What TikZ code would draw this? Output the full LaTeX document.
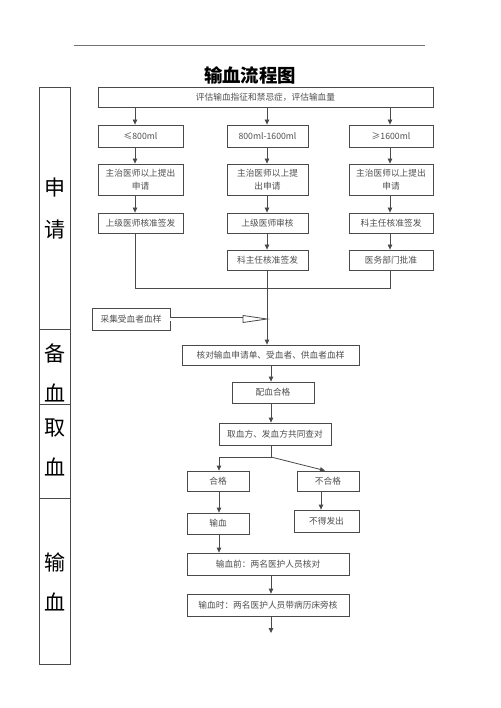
\documentclass[tikz,border=0pt]{standalone}
\usepackage{fontspec}
\setmainfont{Noto Sans CJK SC}
\usetikzlibrary{arrows.meta,calc}
\definecolor{lc}{HTML}{4A4A4A}
\definecolor{tc}{HTML}{4F4F4F}
\begin{document}
\begin{tikzpicture}[x=1pt,y=-1pt,
  box/.style={draw=lc, line width=0.8pt, inner sep=0pt, text=tc, align=center,
    font=\fontsize{8.7}{13}\selectfont},
  arr/.style={draw=lc, line width=0.8pt, -{Triangle[length=5pt,width=4.5pt]}},
  ln/.style={draw=lc, line width=0.8pt},
  side/.style={font=\fontsize{21}{21}\selectfont, text=black}]
\useasboundingbox[fill=white] (0,0) rectangle (500,708);
% header rule and title
\draw[draw=black!55, line width=0.8pt] (74,45) -- (425,45);
\node[font=\fontsize{18.4}{20}\selectfont\bfseries] (title) at (250,75) {输血流程图};
% left frame
\draw[ln] (39,87) rectangle (70,664);
\draw[ln] (39,329) -- (70,329);
\draw[ln] (39,404) -- (70,404);
\draw[ln] (39,498) -- (70,498);
\node[side] (s1) at (55,188) {申};
\node[side] (s2) at (55,230) {请};
\node[side] (s3) at (55,353) {备};
\node[side] (s4) at (55,393) {血};
\node[side] (s5) at (55,428) {取};
\node[side] (s6) at (55,467) {血};
\node[side] (s7) at (55,562) {输};
\node[side] (s8) at (55,602) {血};
% column coordinates
\coordinate (cx1) at (135,0);
\coordinate (cx2) at (267,0);
\coordinate (cx3) at (390,0);
\coordinate (cx4) at (271,0);
\coordinate (cx5) at (219,0);
\coordinate (cx6) at (321,0);
\coordinate (cx7) at (325,0);
\coordinate (m) at (0,288);
\coordinate (split) at (0,457);
\coordinate (dh) at (243,319);
\coordinate (tip) at (267,319);
\coordinate (endp) at (271,633);
% boxes
\node[box, minimum width=335pt, minimum height=20pt] (top) at (265.5,97) {评估输血指征和禁忌症，评估输血量};
\node[box, minimum width=85pt, minimum height=22pt] (a1) at (140.5,136) {≤800ml};
\node[box, minimum width=81pt, minimum height=22pt] (a2) at (267.5,136) {800ml-1600ml};
\node[box, minimum width=84pt, minimum height=22pt] (a3) at (391,136) {≥1600ml};
\node[box, minimum width=85pt, minimum height=31pt] (b1) at (140.5,179.5) {主治医师以上提出\\申请};
\node[box, minimum width=81pt, minimum height=31pt] (b2) at (267.5,179.5) {主治医师以上提\\出申请};
\node[box, minimum width=84pt, minimum height=31pt] (b3) at (391,179.5) {主治医师以上提出\\申请};
\node[box, minimum width=85pt, minimum height=20pt] (c1) at (140.5,223) {上级医师核准签发};
\node[box, minimum width=81pt, minimum height=20pt] (c2) at (267.5,223) {上级医师审核};
\node[box, minimum width=84pt, minimum height=20pt] (c3) at (391,223) {科主任核准签发};
\node[box, minimum width=81pt, minimum height=20pt] (d2) at (267.5,260) {科主任核准签发};
\node[box, minimum width=84pt, minimum height=20pt] (d3) at (391,260) {医务部门批准};
\node[box, minimum width=78pt, minimum height=22pt] (sample) at (131,319) {采集受血者血样};
\node[box, minimum width=177pt, minimum height=20pt] (check) at (270.5,355) {核对输血申请单、受血者、供血者血样};
\node[box, minimum width=82pt, minimum height=21pt] (match) at (273,392.5) {配血合格};
\node[box, minimum width=112pt, minimum height=22pt] (fetch) at (275,434) {取血方、发血方共同查对};
\node[box, minimum width=62pt, minimum height=20pt] (ok) at (218,481) {合格};
\node[box, minimum width=62pt, minimum height=20pt] (nok) at (328,481) {不合格};
\node[box, minimum width=62pt, minimum height=21pt] (trans) at (218,523.5) {输血};
\node[box, minimum width=65pt, minimum height=22pt] (noissue) at (326.5,521) {不得发出};
\node[box, minimum width=162pt, minimum height=22pt] (before) at (268,564) {输血前：两名医护人员核对};
\node[box, minimum width=162pt, minimum height=22pt] (during) at (268,605) {输血时：两名医护人员带病历床旁核};
% connectors: application
\draw[arr] (top.south -| cx1) -- (a1.north -| cx1);
\draw[arr] (top.south -| cx2) -- (a2.north -| cx2);
\draw[arr] (top.south -| cx3) -- (a3.north -| cx3);
\draw[arr] (a1.south -| cx1) -- (b1.north -| cx1);
\draw[arr] (a2.south -| cx2) -- (b2.north -| cx2);
\draw[arr] (a3.south -| cx3) -- (b3.north -| cx3);
\draw[arr] (b1.south -| cx1) -- (c1.north -| cx1);
\draw[arr] (b2.south -| cx2) -- (c2.north -| cx2);
\draw[arr] (b3.south -| cx3) -- (c3.north -| cx3);
\draw[arr] (c2.south -| cx2) -- (d2.north -| cx2);
\draw[arr] (c3.south -| cx3) -- (d3.north -| cx3);
\draw[ln] (c1.south -| cx1) -- (cx1 |- m) -- (cx3 |- m) -- (d3.south -| cx3);
\draw[arr] (d2.south -| cx2) -- (check.north -| cx2);
% sample double arrow
\draw[ln, double=white, double distance=3pt] (sample.east) -- (dh);
\draw[ln, fill=white] ($(dh)+(0,-3.5)$) -- (tip) -- ($(dh)+(0,3.5)$) -- cycle;
% preparation / fetching
\draw[arr] (check.south -| cx4) -- (match.north -| cx4);
\draw[arr] (match.south -| cx4) -- (fetch.north -| cx4);
\draw[arr] (fetch.south -| cx4) -- (cx4 |- split) -- (cx5 |- split) -- (ok.north -| cx5);
\draw[arr] (cx4 |- split) -- (nok.north -| cx7);
\draw[arr] (nok.south -| cx6) -- (noissue.north -| cx6);
\draw[arr] (ok.south -| cx5) -- (trans.north -| cx5);
\draw[arr] (trans.south -| cx5) -- (before.north -| cx5);
\draw[arr] (before.south -| cx4) -- (during.north -| cx4);
\draw[arr] (during.south -| cx4) -- (endp);
\end{tikzpicture}
\end{document}
